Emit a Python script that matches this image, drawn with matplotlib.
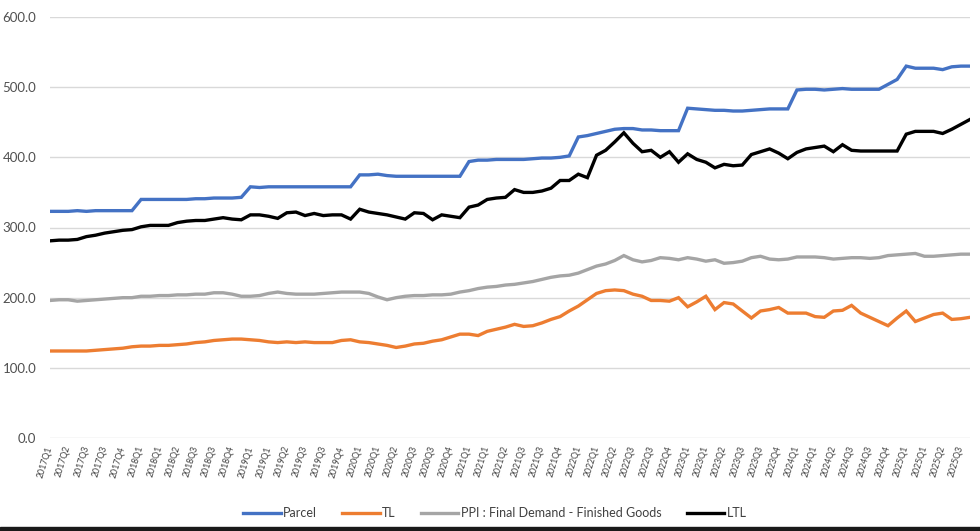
import matplotlib.pyplot as plt
import numpy as np

# monthly index values, Mar 2017 .. Aug 2025
parcel = [323, 323, 323, 324, 323, 324, 324, 324, 324, 324,
          340, 340, 340, 340, 340, 340, 341, 341, 342, 342, 342, 343,
          358, 357, 358, 358, 358, 358, 358, 358, 358, 358, 358, 358,
          375, 375, 376, 374, 373, 373, 373, 373, 373, 373, 373, 373,
          394, 396, 396, 397, 397, 397, 397, 398, 399, 399, 400, 402,
          429, 431, 434, 437, 440, 441, 441, 439, 439, 438, 438, 438,
          470, 469, 468, 467, 467, 466, 466, 467, 468, 469, 469, 469,
          496, 497, 497, 496, 497, 498, 497, 497, 497, 497, 504, 511,
          530, 527, 527, 527, 525, 529, 530, 530]

tl = [124, 124, 124, 124, 124, 125, 126, 127, 128, 130,
      131, 131, 132, 132, 133, 134, 136, 137, 139, 140, 141, 141,
      140, 139, 137, 136, 137, 136, 137, 136, 136, 136, 139, 140,
      137, 136, 134, 132, 129, 131, 134, 135, 138, 140, 144, 148,
      148, 146, 152, 155, 158, 162, 159, 160, 164, 169, 173, 181,
      188, 197, 206, 210, 211, 210, 205, 202, 196, 196, 195, 200,
      187, 194, 202, 183, 193, 191, 181, 171, 181, 183, 186, 178,
      178, 178, 173, 172, 181, 182, 189, 178, 172, 166, 160, 171,
      181, 166, 171, 176, 178, 169, 170, 172]

ppi = [196, 197, 197, 195, 196, 197, 198, 199, 200, 200,
       202, 202, 203, 203, 204, 204, 205, 205, 207, 207, 205, 202,
       202, 203, 206, 208, 206, 205, 205, 205, 206, 207, 208, 208,
       208, 206, 201, 197, 200, 202, 203, 203, 204, 204, 205, 208,
       210, 213, 215, 216, 218, 219, 221, 223, 226, 229, 231, 232,
       235, 240, 245, 248, 253, 260, 254, 251, 253, 257, 256, 254,
       257, 255, 252, 254, 249, 250, 252, 257, 259, 255, 254, 255,
       258, 258, 258, 257, 255, 256, 257, 257, 256, 257, 260, 261,
       262, 263, 259, 259, 260, 261, 262, 262]

ltl = [281, 282, 282, 283, 287, 289, 292, 294, 296, 297,
       301, 303, 303, 303, 307, 309, 310, 310, 312, 314, 312, 311,
       318, 318, 316, 313, 321, 322, 317, 320, 317, 318, 318, 312,
       326, 322, 320, 318, 315, 312, 321, 320, 311, 318, 316, 314,
       329, 332, 340, 342, 343, 354, 350, 350, 352, 356, 367, 367,
       376, 371, 403, 410, 422, 435, 420, 408, 410, 400, 408, 393,
       405, 397, 393, 385, 390, 388, 389, 404, 408, 412, 406, 398,
       407, 412, 414, 416, 408, 418, 410, 409, 409, 409, 409, 409,
       433, 437, 437, 437, 434, 440, 447, 454]

tick_labels = ['2017Q1', '2017Q2', '2017Q3', '2017Q3', '2017Q4',
               '2018Q1', '2018Q1', '2018Q2', '2018Q3', '2018Q3', '2018Q4',
               '2019Q1', '2019Q1', '2019Q2', '2019Q3', '2019Q3', '2019Q4',
               '2020Q1', '2020Q1', '2020Q2', '2020Q3', '2020Q3', '2020Q4',
               '2021Q1', '2021Q1', '2021Q2', '2021Q3', '2021Q3', '2021Q4',
               '2022Q1', '2022Q1', '2022Q2', '2022Q3', '2022Q3', '2022Q4',
               '2023Q1', '2023Q1', '2023Q2', '2023Q3', '2023Q3', '2023Q4',
               '2024Q1', '2024Q1', '2024Q2', '2024Q3', '2024Q3', '2024Q4',
               '2025Q1', '2025Q1', '2025Q2', '2025Q3']

series = [('Parcel', parcel, '#4472C4'),
          ('TL', tl, '#ED7D31'),
          ('PPI : Final Demand - Finished Goods', ppi, '#A5A5A5'),
          ('LTL', ltl, '#000000')]

plt.rcParams['font.family'] = ['Lato', 'DejaVu Sans']
txt = '#505050'

fig = plt.figure(figsize=(9.8, 5.31), dpi=100)
ax = fig.add_axes([50/980, 1-438/531, 920/980, 421/531])

x = np.arange(len(parcel))
for name, vals, col in series:
    ax.plot(x, vals, color=col, lw=2.4, label=name, solid_joinstyle='miter')

ax.set_xlim(0, len(parcel) - 1)
ax.set_ylim(0, 600)
ax.set_yticks(np.arange(0, 601, 100))
ax.set_yticklabels([f'{v:.1f}' for v in np.arange(0, 601, 100)])
ax.set_xticks(np.arange(0, 2*len(tick_labels), 2))
ax.set_xticklabels(tick_labels, rotation=73, ha='right', va='center',
                   rotation_mode='anchor')
ax.tick_params(axis='y', length=0, pad=10, labelsize=9.5, labelcolor=txt)
ax.tick_params(axis='x', length=0, pad=6, labelsize=6.3, labelcolor='#404040')
ax.grid(axis='y', color='#D9D9D9', lw=1)
ax.set_axisbelow(True)
for s in ax.spines.values():
    s.set_visible(False)

fig.legend(loc='center', bbox_to_anchor=(0.505, 0.034), ncol=4, frameon=False,
           fontsize=9, handlelength=3.0, handletextpad=0.2, columnspacing=2.0,
           labelcolor='#404040')

# dark strip along the bottom edge of the screenshot
fig.patches.append(plt.Rectangle((0, 0), 1, 4/531, transform=fig.transFigure,
                                 color='#1a1a1a', zorder=5))

fig.savefig('out.png', dpi=100)
